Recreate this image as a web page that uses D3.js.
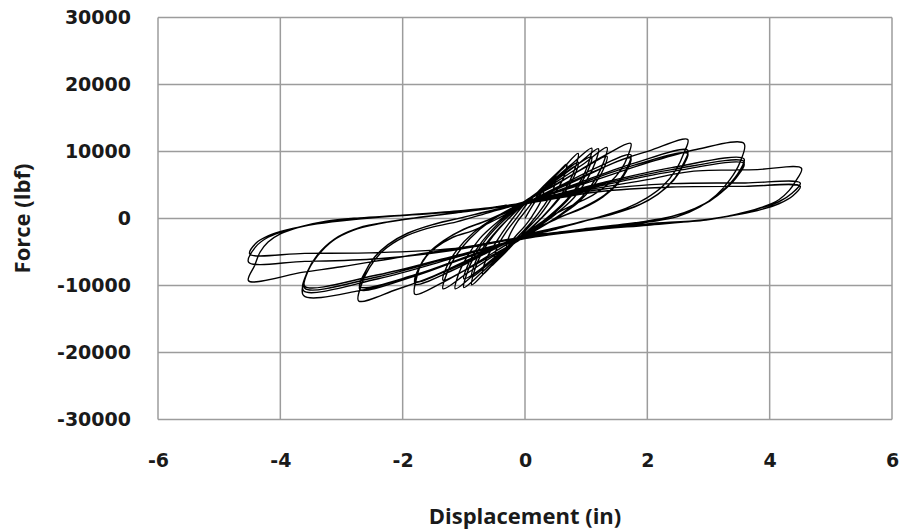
<!DOCTYPE html>
<html lang="en">
<head>
  <meta charset="UTF-8">
  <title>Force vs Displacement</title>
  <script src="https://d3js.org/d3.v7.min.js"></script>
  <style>
    body { margin: 0; background: #fff; }
    svg { display: block; }
  </style>
</head>
<body>
<script>
    // axis ticks
    const xTicks = [-6, -4, -2, 0, 2, 4, 6];
    const yTicks = [-30000, -20000, -10000, 0, 10000, 20000, 30000];

    // hysteresis cycles, [displacement (in), force (lbf)]
    const cycA = [[0,0],[0.15,2300],[0.3,4100],[0.26,2600],[0.12,400],[0,-1100],[-0.15,-2600],[-0.3,-4200],[-0.26,-2700],[-0.12,-400]];
    const cycB = [[0,1000],[0.25,3900],[0.5,6300],[0.46,4300],[0.3,1800],[0.1,-600],[0,-1600],[-0.25,-4000],[-0.5,-6400],[-0.46,-4400],[-0.3,-1900],[-0.1,500]];
    const cycC = [[0,1800],[0.3,4800],[0.55,7000],[0.68,8100],[0.63,6100],[0.47,3500],[0.26,700],[0,-1900],[-0.3,-4900],[-0.55,-7100],[-0.69,-8300],[-0.64,-6200],[-0.47,-3500],[-0.26,-700]];
    const cyc1 = [[0,2200],[0.3,4500],[0.6,7300],[0.87,9700],[0.83,7800],[0.72,5400],[0.52,2700],[0.28,200],[0,-2200],[-0.3,-4600],[-0.6,-7500],[-0.87,-9900],[-0.83,-7900],[-0.72,-5400],[-0.52,-2600],[-0.28,-100]];
    const cyc1b = [[0,2300],[0.35,4700],[0.65,7000],[0.87,8400],[0.82,6600],[0.68,4300],[0.45,1800],[0.2,-600],[0,-2300],[-0.35,-4800],[-0.65,-7200],[-0.87,-8700],[-0.82,-6700],[-0.68,-4300],[-0.45,-1700],[-0.2,600]];
    const cyc2 = [[0,2500],[0.35,4900],[0.75,8000],[1.09,10500],[1.04,8300],[0.92,5800],[0.7,3000],[0.4,400],[0,-2500],[-0.35,-5000],[-0.7,-8000],[-1.0,-10300],[-0.95,-8200],[-0.83,-5700],[-0.62,-2900],[-0.35,-300]];
    const cyc2b = [[0,2400],[0.4,5000],[0.8,7700],[1.09,9200],[1.03,7200],[0.88,4800],[0.62,2000],[0.3,-600],[0,-2500],[-0.4,-5200],[-0.75,-7700],[-1.0,-9000],[-0.94,-7100],[-0.8,-4700],[-0.57,-2000],[-0.3,400]];
    const cyc3 = [[0,2500],[0.4,5000],[0.85,8000],[1.2,10400],[1.15,8400],[1.02,5900],[0.8,3100],[0.48,500],[0,-2600],[-0.4,-5100],[-0.8,-8100],[-1.14,-10500],[-1.09,-8400],[-0.96,-5900],[-0.74,-3000],[-0.42,-300]];
    const cyc4 = [[0,2600],[0.45,5100],[0.95,8100],[1.34,10600],[1.29,8500],[1.16,6000],[0.93,3200],[0.58,600],[0,-2700],[-0.45,-5200],[-0.95,-8200],[-1.34,-10500],[-1.29,-8500],[-1.16,-6000],[-0.9,-3000],[-0.55,-300]];
    const cyc4b = [[0,2500],[0.5,5100],[1.0,7700],[1.34,9300],[1.28,7300],[1.12,4900],[0.86,2300],[0.5,0],[0,-2700],[-0.5,-5300],[-1.0,-7800],[-1.34,-9200],[-1.28,-7200],[-1.12,-4800],[-0.84,-2100],[-0.48,200]];
    const cyc5 = [[0,2600],[0.5,5000],[1.0,7800],[1.34,9600],[1.73,11200],[1.68,9300],[1.57,7300],[1.38,5300],[1.11,3500],[0.78,2000],[0.4,200],[0,-2200],[-0.5,-5000],[-1.0,-7800],[-1.4,-9800],[-1.8,-11300],[-1.77,-8800],[-1.67,-6300],[-1.45,-4300],[-1.18,-2800],[-0.85,-1800],[-0.4,200]];
    const cyc5b = [[0,2200],[0.6,5000],[1.2,7700],[1.73,9500],[1.67,7600],[1.53,5500],[1.3,3500],[0.98,1800],[0.6,300],[0,-2300],[-0.6,-5000],[-1.2,-7800],[-1.8,-9800],[-1.74,-7700],[-1.6,-5500],[-1.36,-3500],[-1.04,-1800],[-0.62,-300]];
    const cyc5c = [[0,2100],[0.6,4800],[1.2,7300],[1.73,9000],[1.66,7100],[1.51,5100],[1.27,3200],[0.94,1500],[0.55,100],[0,-2300],[-0.6,-4900],[-1.2,-7500],[-1.8,-9400],[-1.73,-7300],[-1.58,-5200],[-1.33,-3300],[-1.0,-1600],[-0.6,-200]];
    const cyc6 = [[0,2300],[0.8,5500],[1.5,8500],[2.03,10100],[2.66,11800],[2.6,9800],[2.47,7300],[2.25,4800],[1.98,3000],[1.65,1500],[1.22,250],[0.6,-1200],[0,-2500],[-0.8,-5600],[-1.5,-8600],[-2.1,-10600],[-2.72,-12300],[-2.67,-9800],[-2.54,-7300],[-2.32,-4800],[-1.99,-2800],[-1.61,-1500],[-1.12,-500],[-0.55,1000]];
    const cyc6b = [[0,2400],[0.9,5400],[1.8,8300],[2.66,10200],[2.59,8200],[2.45,6000],[2.2,3800],[1.9,2200],[1.5,900],[1.0,-300],[0.5,-1500],[0,-2600],[-0.9,-5600],[-1.8,-8600],[-2.7,-10600],[-2.63,-8400],[-2.49,-6100],[-2.24,-3900],[-1.92,-2200],[-1.5,-900],[-1.0,200],[-0.5,1300]];
    const cyc6c = [[0,2300],[0.9,5200],[1.8,8000],[2.66,9700],[2.58,7800],[2.43,5700],[2.17,3600],[1.86,2000],[1.45,700],[0.95,-450],[0.5,-1600],[0,-2700],[-0.9,-5500],[-1.8,-8400],[-2.7,-10200],[-2.62,-8100],[-2.47,-5900],[-2.21,-3700],[-1.89,-2100],[-1.47,-800],[-0.98,250],[-0.5,1300]];
    const cyc7 = [[0,2500],[1.0,5300],[2.0,8300],[2.8,10300],[3.58,11200],[3.51,8300],[3.35,5800],[3.13,3500],[2.86,1750],[2.48,250],[2.03,-500],[1.2,-1400],[0.5,-2100],[0,-2700],[-1.0,-6000],[-2.0,-9000],[-2.72,-10800],[-3.62,-11500],[-3.57,-8300],[-3.41,-5800],[-3.14,-3300],[-2.81,-1750],[-2.37,-750],[-1.8,100],[-1.0,1000],[-0.5,1700]];
    const cyc7b = [[0,2400],[1.2,5200],[2.4,7600],[3.58,8900],[3.5,7000],[3.33,5000],[3.08,3000],[2.78,1500],[2.4,300],[1.9,-500],[1.0,-1500],[0.5,-2100],[0,-2800],[-1.2,-6000],[-2.4,-9000],[-3.62,-10800],[-3.56,-8000],[-3.4,-5500],[-3.12,-3100],[-2.78,-1600],[-2.3,-600],[-1.7,200],[-1.0,1000],[-0.5,1600]];
    const cyc7c = [[0,2300],[1.2,5000],[2.4,7300],[3.58,8500],[3.49,6700],[3.31,4700],[3.05,2800],[2.74,1300],[2.35,200],[1.85,-600],[1.0,-1600],[0.5,-2200],[0,-2900],[-1.2,-5800],[-2.4,-8700],[-3.6,-10400],[-3.54,-7700],[-3.38,-5300],[-3.1,-3000],[-2.75,-1500],[-2.25,-550],[-1.65,250],[-1.0,1000],[-0.5,1600]];
    const cyc7d = [[0,2200],[1.2,4800],[2.4,7000],[3.58,8200],[3.48,6400],[3.29,4500],[3.02,2600],[2.7,1150],[2.3,100],[1.8,-700],[1.0,-1700],[0.5,-2300],[0,-3000],[-1.2,-5700],[-2.4,-8400],[-3.6,-10100],[-3.53,-7500],[-3.36,-5100],[-3.08,-2900],[-2.72,-1400],[-2.2,-450],[-1.6,300],[-1.0,1000],[-0.5,1600]];
    const cyc8 = [[0,2200],[1.0,4200],[2.0,5800],[2.7,7000],[3.8,7300],[4.52,7500],[4.42,5500],[4.32,4200],[4.15,2800],[3.85,1600],[3.4,500],[2.9,-200],[2.0,-800],[1.0,-1600],[0,-2700],[-1.0,-4300],[-2.0,-5700],[-3.0,-7200],[-3.62,-8000],[-4.52,-9300],[-4.42,-7000],[-4.33,-5000],[-4.2,-3500],[-4.0,-2300],[-3.7,-1300],[-3.25,-400],[-2.7,100],[-2.0,500],[-1.0,1200],[-0.5,1700]];
    const cyc8b = [[0,2300],[1.2,4300],[2.4,5200],[3.6,5300],[4.5,5300],[4.37,3800],[4.15,2500],[3.83,1500],[3.39,500],[2.96,-250],[2.0,-900],[1.0,-1700],[0,-2800],[-1.2,-4800],[-2.4,-6000],[-3.6,-6400],[-4.52,-6500],[-4.4,-4200],[-4.2,-2800],[-3.9,-1800],[-3.4,-800],[-2.8,-100],[-2.0,500],[-1.0,1200],[-0.5,1700]];
    const cyc8c = [[0,2200],[1.2,4000],[2.4,4700],[3.6,4800],[4.5,4800],[4.38,3400],[4.15,2200],[3.8,1200],[3.3,300],[2.8,-350],[2.0,-1000],[1.0,-1800],[0,-2900],[-1.2,-4500],[-2.4,-5100],[-3.6,-5200],[-4.5,-5300],[-4.4,-3700],[-4.2,-2600],[-3.9,-1700],[-3.4,-800],[-2.8,-150],[-2.0,450],[-1.0,1100],[-0.3,2000]];

    const cycles = [cycA, cycB, cycC, cyc1, cyc1b, cyc2, cyc2b, cyc3, cyc4, cyc4b,
                    cyc5, cyc5b, cyc5c, cyc6, cyc6b, cyc6c, cyc7, cyc7b, cyc7c, cyc7d,
                    cyc8, cyc8b, cyc8c];

    const width = 900, height = 531;
    const margin = { top: 17.5, right: 8, bottom: 111.5, left: 158 };

    const svg = d3.select("body")
        .append("svg")
        .attr("width", width)
        .attr("height", height);

    const x = d3.scaleLinear()
        .domain([-6, 6])
        .range([margin.left, width - margin.right]);

    const y = d3.scaleLinear()
        .domain([-30000, 30000])
        .range([height - margin.bottom, margin.top]);

    // gridlines
    svg.append("g")
        .selectAll("line.vgrid")
        .data(xTicks)
        .enter()
        .append("line")
        .attr("class", "vgrid")
        .attr("x1", d => x(d)).attr("x2", d => x(d))
        .attr("y1", y(30000)).attr("y2", y(-30000))
        .attr("stroke", "#9c9c9c")
        .attr("stroke-width", 1.5);

    svg.append("g")
        .selectAll("line.hgrid")
        .data(yTicks)
        .enter()
        .append("line")
        .attr("class", "hgrid")
        .attr("x1", x(-6)).attr("x2", x(6))
        .attr("y1", d => y(d)).attr("y2", d => y(d))
        .attr("stroke", "#9c9c9c")
        .attr("stroke-width", 1.5);

    // axes (labels only, no tick marks); plain hyphen for negatives
    const xAxis = svg.append("g")
        .attr("transform", `translate(0,${y(-30000)})`)
        .call(d3.axisBottom(x).tickValues(xTicks).tickSize(0).tickPadding(34).tickFormat(d => String(d)));
    const yAxis = svg.append("g")
        .attr("transform", `translate(${x(-6)},0)`)
        .call(d3.axisLeft(y).tickValues(yTicks).tickSize(0).tickPadding(27).tickFormat(d => String(d)));

    [xAxis, yAxis].forEach(g => {
        g.select(".domain").remove();
        g.selectAll("text")
            .attr("font-family", "'DejaVu Sans', sans-serif")
            .attr("font-weight", "bold")
            .attr("font-size", 19)
            .attr("fill", "#1a1a1a");
    });

    // hysteresis curve
    const line = d3.line()
        .x(d => x(d[0]))
        .y(d => y(d[1]))
        .curve(d3.curveCatmullRom.alpha(0.5));

    svg.append("path")
        .datum(cycles.flat())
        .attr("d", line)
        .attr("fill", "none")
        .attr("stroke", "#000")
        .attr("stroke-width", 1.4);

    // axis titles
    svg.append("text")
        .attr("x", x(0))
        .attr("y", 524)
        .attr("text-anchor", "middle")
        .attr("font-family", "'Open Sans', sans-serif")
        .attr("font-weight", "bold")
        .attr("font-size", 22)
        .attr("fill", "#1a1a1a")
        .text("Displacement (in)");

    svg.append("text")
        .attr("transform", `translate(30,${y(0)}) rotate(-90)`)
        .attr("text-anchor", "middle")
        .attr("font-family", "'Open Sans', sans-serif")
        .attr("font-weight", "bold")
        .attr("font-size", 22)
        .attr("fill", "#1a1a1a")
        .text("Force (lbf)");
</script>
</body>
</html>
